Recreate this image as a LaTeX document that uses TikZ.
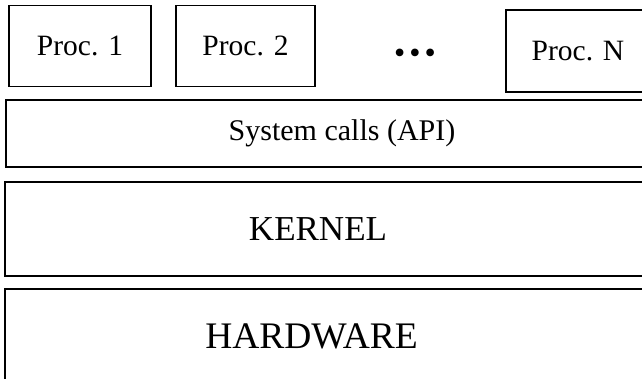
\documentclass[tikz,border=0pt]{standalone}
\usepackage{fontspec}
\setmainfont{Liberation Serif}
\usetikzlibrary{positioning}
\tikzset{box/.style={rectangle,draw=black,line width=1.5pt,inner sep=0pt}}
\tikzset{proc/.style={box,minimum height=81pt,font=\fontsize{29.5}{32}\selectfont}}
\tikzset{layer/.style={box,minimum width=645pt}}
\tikzset{none/.style={inner sep=0pt}}

\begin{document}
\begin{tikzpicture}[x=1pt,y=-1pt]
	\path[use as bounding box,clip] (0,0) rectangle (642,379);
	% processes
	\node [proc,minimum width=142pt] (P1) at (80,46) {Proc. 1};
	\node [proc,minimum width=139pt] (P2) at (245.5,46) {Proc. 2};
	\node [none,font=\fontsize{32}{34}\selectfont] (dots) at (415,56) {\textbullet\hspace{4pt}\textbullet\hspace{4pt}\textbullet};
	\node [proc,minimum width=144pt,minimum height=82pt] (PN) at (578,51) {Proc. N};
	% layers
	\node [layer,minimum height=67pt] (api) at (328.5,133.5) {};
	\node [layer,minimum height=94pt] (kern) at (327.5,229) {};
	\node [layer,minimum height=120pt] (hw) at (327.5,349) {};
	\node [none,font=\fontsize{30}{32}\selectfont] (apiL) at (342,133) {System calls (API)};
	\node [none,font=\fontsize{35}{38}\selectfont] (kernL) at (318,229) {KERNEL};
	\node [none,font=\fontsize{37.5}{40}\selectfont] (hwL) at (311.5,336) {HARDWARE};
\end{tikzpicture}
\end{document}
